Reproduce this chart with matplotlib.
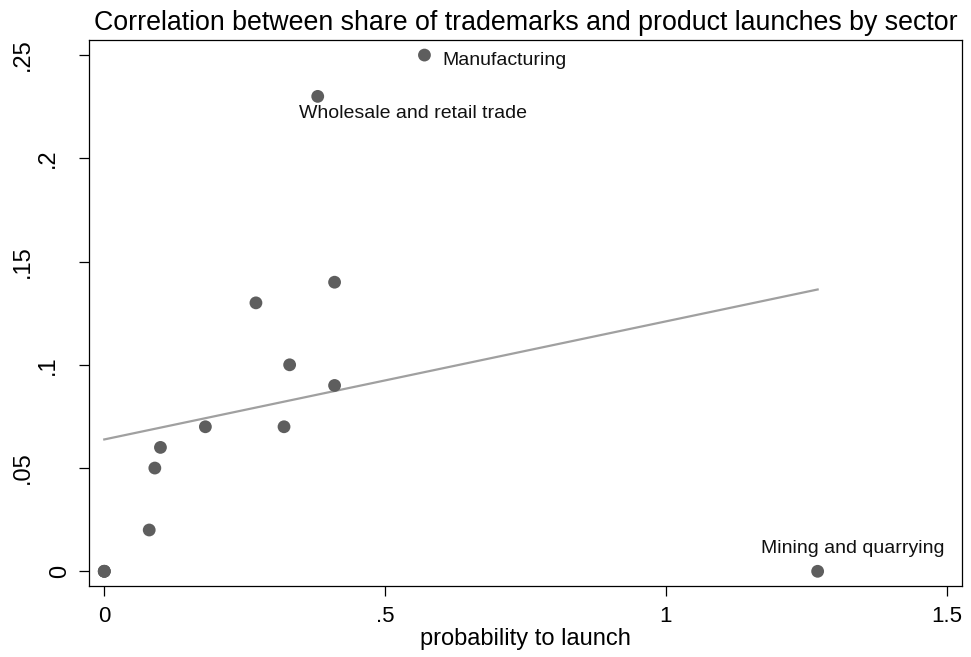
import matplotlib
matplotlib.use("Agg")
import matplotlib.pyplot as plt
import numpy as np

# probability to launch (x) vs share of trademarks (y), one point per sector
prob_launch = [0, 0, 0, 0.08, 0.09, 0.10, 0.18, 0.32, 0.27, 0.33, 0.41, 0.41, 0.38, 0.57, 1.27]
share_tm = [0, 0, 0, 0.02, 0.05, 0.06, 0.07, 0.07, 0.13, 0.10, 0.14, 0.09, 0.23, 0.25, 0]

labelled = ["Manufacturing", "Wholesale and retail trade", "Mining and quarrying"]
labelled_x = [0.57, 0.38, 1.27]
labelled_y = [0.25, 0.23, 0]

xticks = [0, 0.5, 1, 1.5]
xtick_labels = ["0", ".5", "1", "1.5"]
yticks = [0, 0.05, 0.1, 0.15, 0.2, 0.25]
ytick_labels = ["0", ".05", ".1", ".15", ".2", ".25"]

plt.rcParams['font.family'] = ['Liberation Sans', 'DejaVu Sans']

fig = plt.figure(figsize=(9.71, 6.57), dpi=100)
ax = fig.add_axes([89 / 971, 71 / 657, 873 / 971, 546 / 657])

x = np.array(prob_launch)
y = np.array(share_tm)

# linear fit (like Stata's lfit)
slope, intercept = np.polyfit(x, y, 1)
xs = np.array([x.min(), x.max()])
ax.plot(xs, intercept + slope * xs, color="#a0a0a0", lw=1.6, zorder=1)

ax.scatter(x, y, s=85, color="#5e5e5e", edgecolors="none", zorder=2)

# point labels, offsets in pixels
offsets = [(18, -10, "left"), (-19, -22, "left"), (-57, 18, "left")]
for name, lx, ly, (dx, dy, ha) in zip(labelled, labelled_x, labelled_y, offsets):
    ax.annotate(name, (lx, ly), xytext=(dx, dy), textcoords="offset pixels",
                ha=ha, va="baseline", fontsize=14, color="#111111")

ax.set_xlim(-0.0272, 1.527)
ax.set_ylim(-0.00712, 0.2573)

ax.set_xticks(xticks)
ax.set_xticklabels(xtick_labels, fontsize=16)
ax.set_yticks(yticks)
ax.set_yticklabels([])
ax.tick_params(axis="both", direction="out", length=7.2, width=0.9, color="black", pad=7)

for sp in ax.spines.values():
    sp.set_linewidth(0.9)
    sp.set_color("black")

ax.set_xlabel("probability to launch", fontsize=17, labelpad=1)
ax.set_title("Correlation between share of trademarks and product launches by sector",
             fontsize=19.3, pad=7)

# rotated y tick labels, placed Stata-style (shorter labels sit closer to the axis)
ytexts = []
for val, lab in zip(yticks, ytick_labels):
    t = ax.text(0, val, lab, rotation=90, ha="center", va="center", fontsize=17,
                transform=ax.get_yaxis_transform())
    ytexts.append(t)
fig.canvas.draw()
r = fig.canvas.get_renderer()
for t in ytexts:
    length = t.get_window_extent(r).height
    cx = 85 - 1.9 * length
    t.set_x((cx - 89) / 873)

fig.savefig("out.png", dpi=100)
